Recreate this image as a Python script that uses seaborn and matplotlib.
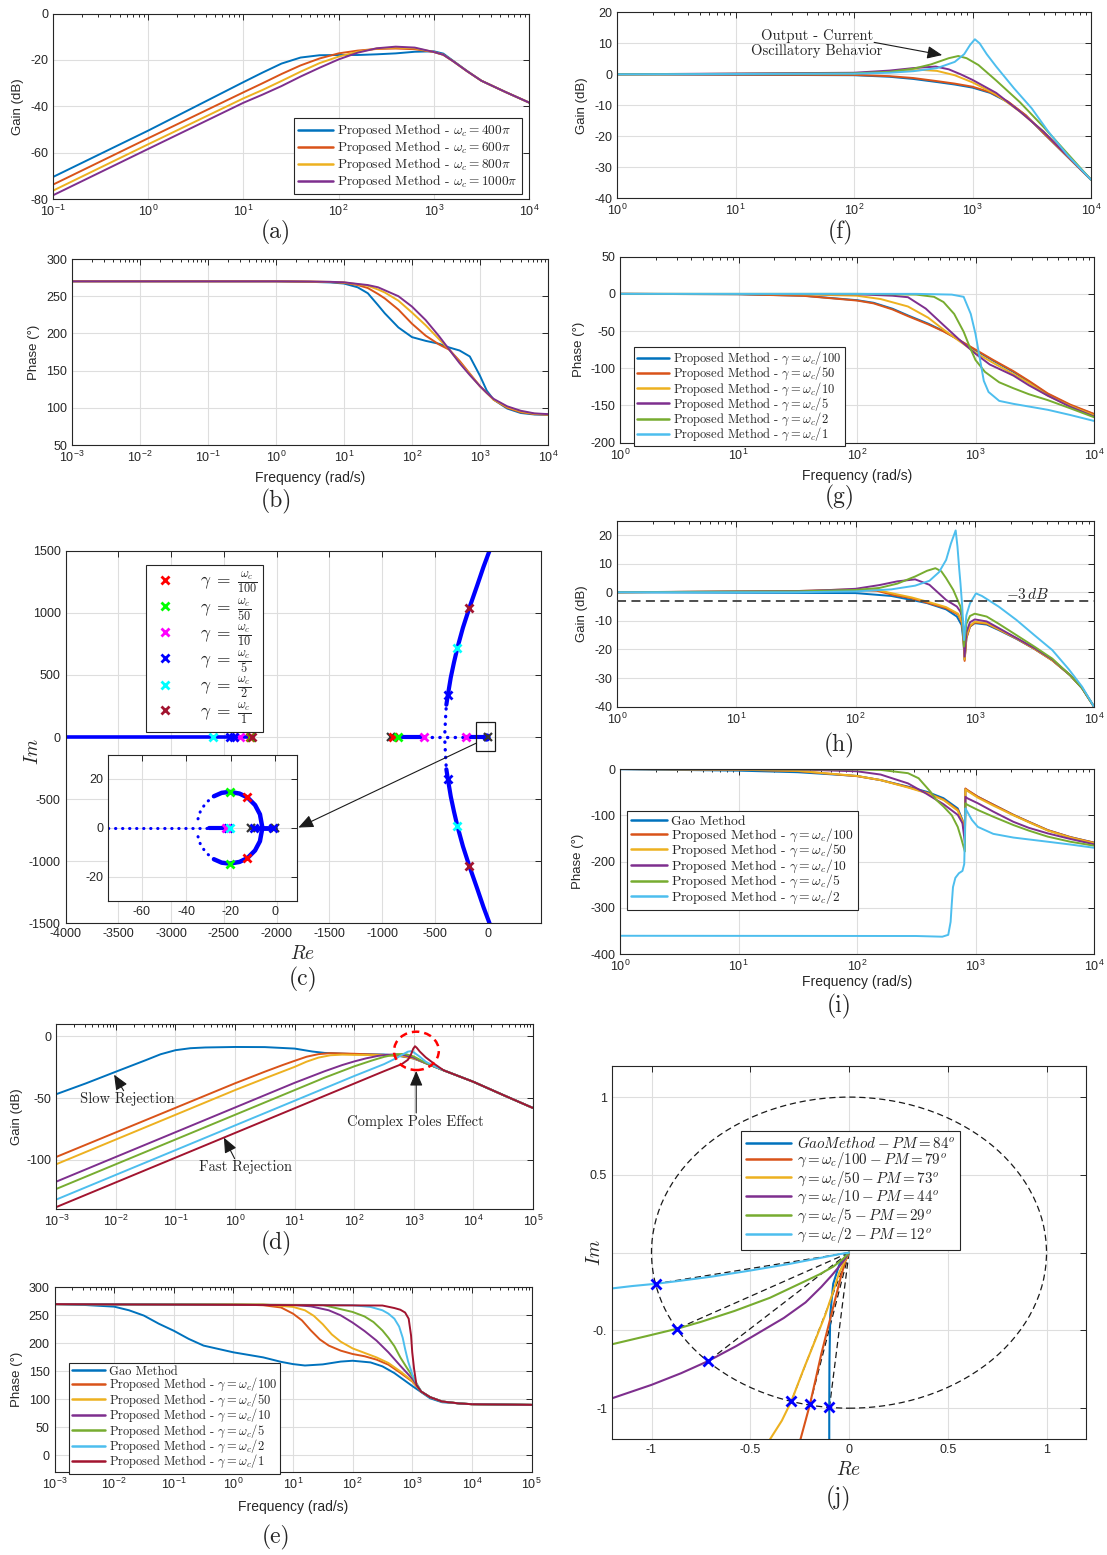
import numpy as np
import matplotlib
matplotlib.use("Agg")
import matplotlib.pyplot as plt
import seaborn as sns
from matplotlib.lines import Line2D
from matplotlib.patches import Ellipse, Circle, Rectangle
from matplotlib.ticker import NullFormatter, FixedLocator, LogFormatterSciNotation

# ---------------- data ----------------
# (a) gain, log10 frequency
a_lx = [-1, 0, 1, 1.2, 1.4, 1.6, 1.8, 2, 2.2, 2.4, 2.6, 2.8, 3, 3.1, 3.2, 3.35, 3.5, 3.75, 4]
a_400 = [-70.5, -50.5, -29.6, -25.5, -21.6, -19.0, -18.0, -17.9, -17.9, -17.6, -17.2, -16.5, -16.3, -17.3, -20.3, -24.8, -29.0, -33.8, -38.4]
a_600 = [-73.8, -53.8, -34.0, -30.1, -26.1, -22.4, -19.4, -17.2, -16.0, -15.3, -15.1, -15.4, -16.6, -17.8, -20.5, -24.9, -29.0, -33.8, -38.4]
a_800 = [-76.4, -56.4, -36.6, -33.0, -29.1, -25.1, -21.4, -18.6, -16.5, -15.1, -14.7, -15.0, -16.6, -17.8, -20.5, -24.9, -29.0, -33.8, -38.4]
a_1000 = [-78.4, -58.4, -38.5, -35.0, -31.3, -27.2, -23.4, -19.8, -16.9, -15.0, -14.3, -14.7, -16.6, -17.8, -20.5, -24.9, -29.0, -33.8, -38.4]
a_labels = [r"Proposed Method - $\omega_c = 400\pi$", r"Proposed Method - $\omega_c = 600\pi$",
            r"Proposed Method - $\omega_c = 800\pi$", r"Proposed Method - $\omega_c = 1000\pi$"]

# (b) phase
b_lx = [-3, 0, 0.5, 0.8, 1, 1.2, 1.35, 1.5, 1.6, 1.8, 2, 2.2, 2.4, 2.55, 2.7, 2.85, 3, 3.1, 3.2, 3.4, 3.6, 3.8, 4]
b_400 = [270, 270, 269.3, 268.5, 267, 262, 254, 238, 227, 208, 195, 190, 186, 181, 177, 169, 143, 123, 111, 99, 93, 91, 90.5]
b_600 = [270, 270, 269.5, 269, 268, 265, 261, 253, 247, 232, 213, 197, 185, 178, 163, 146, 129, 120, 111, 100, 94, 91.5, 90.7]
b_800 = [270, 270, 269.6, 269.2, 268.5, 266, 264, 259, 255, 244, 228, 211, 192, 178, 161, 145, 129, 120, 111, 101, 95, 92, 91]
b_1000 = [270, 270, 269.7, 269.3, 268.7, 266.5, 265, 262, 258, 250, 236, 218, 196, 178, 160, 144, 129, 120, 112, 102, 96, 92.5, 91.5]

# (c) root locus (Re, Im)
c_real_left = [-4000, -2250]
c_real_mid = [-920, -604]
c_real_gap = [-604, -206]
c_real_right = [-206, 0]
c_br_dot_re = [-406, -400, -392]
c_br_dot_im = [40, 150, 260]
c_br_re = [-392, -379, -350, -320, -288, -235, -176, -100, -40, 17, 40]
c_br_im = [260, 332, 480, 600, 716, 880, 1035, 1220, 1370, 1500, 1560]
c_red_re, c_red_im = [-2255, -895], [0, 0]
c_green_re, c_green_im = [-2245, -855], [0, 0]
c_mag_re, c_mag_im = [-2345, -604, -206], [0, 0, 0]
c_blue_re, c_blue_im = [-2440, -2400, -379, -379], [0, 0, 340, -340]
c_cyan_re, c_cyan_im = [-2600, -288, -288], [0, 716, -716]
c_dred_re, c_dred_im = [-2232, -176, -176], [0, 1035, -1035]
c_black_re, c_black_im = [-920, 5], [0, 0]
c_labels = [r"$\gamma\;=\;\frac{\omega_c}{100}$", r"$\gamma\;=\;\frac{\omega_c}{50}$", r"$\gamma\;=\;\frac{\omega_c}{10}$",
            r"$\gamma\;=\;\frac{\omega_c}{5}$", r"$\gamma\;=\;\frac{\omega_c}{2}$", r"$\gamma\;=\;\frac{\omega_c}{1}$"]
# (c) inset
ci_real_dot = [-75, -29.5]
ci_real_thick = [-29.5, -20.4]
ci_real_right = [-10.5, 0]
ci_arc_re = [-27.5, -24, -20.4, -16, -12.4, -9, -6.8, -5.7, -6.8, -9, -12.4, -16, -20.4, -24, -27.5]
ci_arc_im = [12.9, 14.3, 14.7, 14.0, 12.4, 9.3, 5.5, 0, -5.5, -9.3, -12.4, -14.0, -14.7, -14.3, -12.9]
ci_arcdot_re = [-27.5, -31, -33.5, -34.7]
ci_arcdot_im = [12.9, 10.3, 7, 3.5]
ci_green_re, ci_green_im = [-20.4, -20.4], [14.7, -14.7]
ci_red_re, ci_red_im = [-12.4, -12.4], [12.4, -12.4]
ci_mag_re, ci_mag_im = [-22.2], [0]
ci_blue_re, ci_blue_im = [-21.0, -9.6, -1.0], [0, 0, 0]
ci_cyan_re, ci_cyan_im = [-20.2], [0]
ci_black_re, ci_black_im = [-10.6, 0], [0, 0]

# (d) gain
d_gao_lx = [-3, -2.5, -2, -1.5, -1.25, -1, -0.75, -0.5, 0, 0.5, 1, 1.3, 1.5, 2, 2.5, 2.7, 2.85, 3, 3.2, 3.5, 4, 4.5, 5]
d_gao = [-46.8, -38, -28.6, -19.3, -14.5, -11.2, -9.6, -9.0, -8.6, -8.7, -9.9, -12.3, -13.4, -14.4, -14.7, -15.5, -16.6, -18.0, -21.7, -27.5, -36.8, -47.5, -58]
d_100_lx = [-3, 0, 0.5, 0.8, 1, 1.2, 1.4, 1.6, 2, 2.5, 2.8, 3, 3.2, 3.5, 4, 4.5, 5]
d_100 = [-97.6, -38.0, -28.6, -23.2, -19.8, -16.5, -14.4, -13.6, -14.1, -15.0, -16.0, -17.8, -21.7, -27.5, -36.8, -47.5, -58]
d_50_lx = [-3, 0, 0.5, 1, 1.2, 1.4, 1.6, 1.8, 2, 2.5, 2.8, 3, 3.2, 3.5, 4, 4.5, 5]
d_50 = [-103.5, -43.5, -34, -24.7, -20.5, -17.2, -15.3, -14.8, -15.0, -15.2, -15.8, -17.8, -21.7, -27.5, -36.8, -47.5, -58]
d_10_lx = [-3, 1, 1.5, 1.8, 2, 2.2, 2.4, 2.55, 2.7, 2.85, 3, 3.2, 3.5, 4, 4.5, 5]
d_10 = [-117.6, -37.6, -28.3, -23.2, -20.3, -17.8, -15.8, -14.9, -14.6, -15.4, -17.3, -21.7, -27.5, -36.8, -47.5, -58]
d_5_lx = [-3, 1.5, 2, 2.3, 2.5, 2.7, 2.85, 3, 3.2, 3.5, 4, 4.5, 5]
d_5 = [-123.5, -33.5, -24.3, -19.5, -16.6, -14.5, -14.2, -16.3, -21.5, -27.5, -36.8, -47.5, -58]
d_2_lx = [-3, 2, 2.5, 2.7, 2.8, 2.9, 2.95, 3.0, 3.1, 3.2, 3.35, 3.5, 4, 4.5, 5]
d_2 = [-132.1, -32.1, -22.5, -17.8, -15.0, -12.4, -12.0, -13.0, -16.5, -20.5, -24.3, -27.5, -36.8, -47.5, -58]
d_1_lx = [-3, 2, 2.5, 2.8, 2.9, 2.95, 2.99, 3.02, 3.05, 3.1, 3.2, 3.35, 3.5, 4, 4.5, 5]
d_1 = [-138.2, -38.2, -28.2, -22.4, -19.0, -15.0, -10.0, -8.0, -9.3, -12.3, -17.0, -22.5, -27.5, -36.8, -47.5, -58]

# (e) phase
e_gao_lx = [-3, -2.5, -2, -1.75, -1.5, -1.25, -1, -0.75, -0.5, 0, 0.5, 0.8, 1, 1.2, 1.5, 1.8, 2, 2.3, 2.5, 2.7, 2.85, 3, 3.15, 3.3, 3.5, 4, 5]
e_gao = [270, 268.5, 265.5, 259, 249.5, 235, 222.5, 208, 196, 184, 175, 167, 163, 160.5, 162.5, 167.5, 169, 166, 159, 147, 135.5, 124, 113, 102, 95, 91.5, 90.3]
e_100_lx = [-3, 0, 0.5, 0.8, 1, 1.15, 1.3, 1.45, 1.6, 1.8, 2, 2.2, 2.4, 2.6, 2.8, 3, 3.15, 3.3, 3.5, 3.8, 4, 5]
e_100 = [270, 269.5, 268, 264, 253, 241, 223, 207, 196, 187, 181, 177, 171, 162, 147.5, 132, 114, 104, 96.3, 92.7, 91.5, 90.3]
e_50_lx = [-3, 0.5, 1, 1.2, 1.35, 1.5, 1.65, 1.8, 2, 2.2, 2.4, 2.6, 2.8, 3, 3.15, 3.3, 3.5, 3.8, 4, 5]
e_50 = [270, 269.5, 265, 259, 249, 234, 216, 203, 191, 183, 175, 165, 150, 133, 114, 104, 96.3, 92.7, 91.5, 90.3]
e_10_lx = [-3, 1, 1.3, 1.6, 1.8, 2, 2.2, 2.4, 2.6, 2.8, 3, 3.15, 3.3, 3.5, 3.8, 4, 5]
e_10 = [270, 268.5, 266, 259, 250, 237, 222, 205, 184, 160, 137, 114, 104, 96.3, 92.7, 91.5, 90.3]
e_5_lx = [-3, 1.5, 2, 2.2, 2.35, 2.5, 2.6, 2.7, 2.8, 2.9, 3, 3.15, 3.3, 3.5, 3.8, 4, 5]
e_5 = [270, 268.5, 256, 248, 238, 223, 210, 195, 175, 158, 142, 114, 104, 96.3, 92.7, 91.5, 90.3]
e_2_lx = [-3, 2, 2.3, 2.5, 2.6, 2.7, 2.78, 2.84, 2.88, 2.93, 3, 3.08, 3.15, 3.3, 3.5, 3.8, 4, 5]
e_2 = [270, 268, 265, 259, 253, 244, 230, 210, 190, 168, 145, 126, 114, 104, 96.3, 92.7, 91.5, 90.3]
e_1_lx = [-3, 2.5, 2.7, 2.8, 2.88, 2.94, 2.98, 3.0, 3.03, 3.07, 3.15, 3.3, 3.5, 3.8, 4, 5]
e_1 = [270, 267.5, 263, 260, 255, 244, 214, 184, 155, 126, 114, 104, 96.3, 92.7, 91.5, 90.3]
e_labels = ["Gao Method", r"Proposed Method - $\gamma = \omega_c/100$", r"Proposed Method - $\gamma = \omega_c/50$",
            r"Proposed Method - $\gamma = \omega_c/10$", r"Proposed Method - $\gamma = \omega_c/5$",
            r"Proposed Method - $\gamma = \omega_c/2$", r"Proposed Method - $\gamma = \omega_c/1$"]

# (f) gain
f_100_lx = [0, 2, 2.3, 2.5, 2.7, 2.85, 3, 3.15, 3.3, 3.45, 3.6, 3.8, 4]
f_100 = [0, -0.3, -0.8, -1.5, -2.5, -3.3, -4.3, -6.0, -9.0, -13.3, -19.0, -26.5, -34.0]
f_50 = [0, -0.2, -0.6, -1.2, -2.2, -3.0, -4.0, -5.8, -8.8, -13.2, -19.0, -26.5, -34.0]
f_10_lx = [0, 2, 2.3, 2.45, 2.58, 2.7, 2.85, 3, 3.2, 3.4, 3.6, 3.8, 4]
f_10 = [0, 0.3, 0.8, 1.2, 1.4, 1.1, -0.3, -2.6, -6.5, -12, -18.5, -26.3, -34]
f_5_lx = [0, 2, 2.3, 2.5, 2.69, 2.8, 2.9, 3, 3.2, 3.4, 3.6, 3.8, 4]
f_5 = [0, 0.5, 1.2, 2.0, 2.5, 1.6, 0, -1.8, -6, -12, -18.5, -26.3, -34]
f_2_lx = [0, 2, 2.3, 2.5, 2.65, 2.8, 2.88, 2.95, 3.05, 3.2, 3.4, 3.6, 3.8, 4]
f_2 = [0, 0.3, 0.8, 1.8, 3.2, 5.2, 5.9, 5.2, 3.0, -2.0, -9.0, -17.0, -25.5, -34]
f_1_lx = [0, 2, 2.3, 2.5, 2.7, 2.85, 2.93, 2.98, 3.02, 3.06, 3.12, 3.2, 3.35, 3.5, 3.64, 3.8, 4]
f_1 = [0, 0.2, 0.5, 1.0, 2.0, 4.0, 6.5, 9.5, 11.3, 10.0, 6.5, 2.5, -4.5, -11, -18.5, -26, -34]

# (g) phase
g_100_lx = [0, 1, 1.55, 2, 2.14, 2.3, 2.43, 2.6, 2.73, 2.85, 3, 3.15, 3.32, 3.45, 3.61, 3.8, 4]
g_100 = [0, -0.5, -2.5, -8.5, -12, -20, -29, -40, -50, -61, -76, -90, -105, -118, -135, -150, -162]
g_50 = [0, -0.5, -2.7, -9.0, -12.8, -21, -30, -41, -50.5, -61, -75, -89, -104, -117, -134, -149, -161.5]
g_10_lx = [0, 1, 1.5, 2, 2.2, 2.43, 2.6, 2.73, 2.85, 3, 3.15, 3.32, 3.45, 3.61, 3.8, 4]
g_10 = [0, -0.2, -0.6, -2.5, -7, -17, -32, -48, -62, -79, -93, -108, -120, -137, -151, -163.5]
g_5_lx = [0, 2, 2.3, 2.43, 2.58, 2.73, 2.87, 3, 3.12, 3.32, 3.45, 3.61, 3.8, 4]
g_5 = [0, -0.5, -2.5, -4.5, -19.8, -42, -62.6, -80.6, -95, -110, -123, -137, -152, -165]
g_2_lx = [0, 2, 2.5, 2.65, 2.73, 2.82, 2.9, 2.95, 3, 3.08, 3.2, 3.32, 3.45, 3.61, 3.8, 4]
g_2 = [0, 0, -1, -4, -11, -27, -51, -71, -89, -105, -119, -127, -135, -143, -154, -166]
g_1_lx = [0, 2.5, 2.8, 2.9, 2.96, 3.0, 3.04, 3.07, 3.11, 3.2, 3.32, 3.61, 3.8, 4]
g_1 = [0, 0, -1, -4, -27, -54, -90, -117, -132, -144, -148, -156, -163, -171]
g_labels = [r"Proposed Method - $\gamma = \omega_c/100$", r"Proposed Method - $\gamma = \omega_c/50$",
            r"Proposed Method - $\gamma = \omega_c/10$", r"Proposed Method - $\gamma = \omega_c/5$",
            r"Proposed Method - $\gamma = \omega_c/2$", r"Proposed Method - $\gamma = \omega_c/1$"]

# (h) gain
h_gao_lx = [0, 2, 2.3, 2.47, 2.6, 2.76, 2.85, 2.89, 2.905, 2.915, 2.93, 2.96, 3.0, 3.1, 3.2, 3.35, 3.5, 3.65, 3.8, 3.9, 4]
h_gao = [0, -0.3, -1.3, -2.7, -3.8, -6.0, -8.5, -11.5, -17, -23.5, -16, -12, -10.8, -11.3, -13.2, -16.3, -19.8, -23.8, -29, -33.5, -40]
h_100_lx = [0, 1.5, 1.8, 2, 2.18, 2.32, 2.47, 2.62, 2.76, 2.86, 2.895, 2.905, 2.915, 2.93, 2.96, 3.0, 3.1, 3.2, 3.35, 3.5, 3.65, 3.8, 3.9, 4]
h_100 = [0, 0.3, 0.6, 0.8, 0.5, -1.0, -2.1, -3.9, -5.6, -7.8, -11, -16, -24, -16, -12, -10.6, -11, -13, -16.2, -19.8, -23.8, -29, -33.5, -40]
h_50 = [0, 0.4, 0.8, 1.0, 0.8, -0.5, -1.8, -3.5, -5.2, -7.5, -10.5, -15.5, -23.5, -15.5, -11.7, -10.3, -10.8, -12.9, -16.1, -19.7, -23.8, -29, -33.5, -40]
h_10_lx = [0, 1.5, 1.8, 2, 2.2, 2.35, 2.5, 2.62, 2.76, 2.85, 2.88, 2.9, 2.915, 2.93, 2.96, 3.0, 3.1, 3.2, 3.35, 3.5, 3.65, 3.8, 3.9, 4]
h_10 = [0, 0.4, 0.8, 1.2, 2.5, 3.8, 4.5, 2.6, -2.7, -5.0, -6.8, -10, -22.5, -14, -10.5, -9.5, -10.2, -12.5, -16, -19.5, -23.5, -29, -33.5, -40]
h_5_lx = [0, 1.5, 2, 2.2, 2.35, 2.5, 2.6, 2.67, 2.72, 2.76, 2.82, 2.88, 2.9, 2.91, 2.93, 2.96, 3.0, 3.1, 3.2, 3.35, 3.5, 3.65, 3.8, 3.9, 4]
h_5 = [0, 0.3, 0.8, 1.5, 3, 5.5, 7.5, 8.4, 7.3, 4.9, 0.8, -5, -10, -19, -11, -8.3, -7.5, -8.5, -11, -15, -19, -23.2, -29, -33.5, -40]
h_2_lx = [0, 1.5, 2, 2.3, 2.5, 2.62, 2.7, 2.76, 2.8, 2.84, 2.855, 2.87, 2.88, 2.895, 2.91, 2.93, 2.96, 3.01, 3.06, 3.2, 3.35, 3.5, 3.65, 3.79, 3.9, 4]
h_2 = [0, 0, 0.3, 1, 2.3, 4, 7, 11.3, 17, 21.6, 16, 8, 3.2, -5, -16.7, -8, -3.9, -0.4, -1.3, -5, -9.7, -15, -20.2, -27, -33, -40]
h_ref_db = -3

# (i) phase
i_lx = [0, 1, 1.5, 2, 2.2, 2.43, 2.6, 2.73, 2.85, 2.89, 2.91, 2.915, 2.93, 3.02, 3.15, 3.32, 3.45, 3.61, 3.8, 4]
i_gao = [-0.5, -3.6, -7, -15, -24, -38, -50, -63, -85, -110, -140, -43, -46, -60, -77, -99, -114, -132, -147, -159]
i_100 = [0, -1.5, -4.5, -15.5, -24, -39, -52, -66, -88, -112, -140, -42, -45, -60, -77, -99, -114, -132, -147, -159]
i_50 = [0, -1.3, -4, -15, -24, -40, -53, -67, -90, -113, -142, -44, -47, -62, -79, -100, -115, -133, -148, -160]
i_10_lx = [0, 1.5, 2, 2.2, 2.43, 2.58, 2.73, 2.85, 2.89, 2.91, 2.915, 2.93, 3.02, 3.15, 3.32, 3.45, 3.61, 3.8, 4]
i_10 = [0, -1, -5, -12, -31, -52.5, -76, -99, -117, -158, -60, -63, -74, -92, -114, -127, -139, -151, -162.5]
i_5_lx = [0, 2, 2.2, 2.43, 2.52, 2.62, 2.67, 2.73, 2.8, 2.85, 2.88, 2.91, 2.915, 2.93, 3.02, 3.15, 3.32, 3.45, 3.61, 3.8, 4]
i_5 = [0, -1, -2, -9, -20, -49, -67, -81, -100, -125, -150, -178, -74, -77, -88.5, -103, -121, -133, -146, -157, -165.5]
i_2_lx = [0, 2.5, 2.72, 2.77, 2.79, 2.8, 2.81, 2.83, 2.86, 2.89, 2.905, 2.915, 2.93, 2.97, 3.02, 3.15, 3.32, 3.61, 3.8, 4]
i_2 = [-360, -360.5, -362, -358, -330, -290, -255, -235, -225, -220, -205, -85, -92, -110, -125, -140, -148, -157, -163, -170]
i_labels = ["Gao Method", r"Proposed Method - $\gamma = \omega_c/100$", r"Proposed Method - $\gamma = \omega_c/50$",
            r"Proposed Method - $\gamma = \omega_c/10$", r"Proposed Method - $\gamma = \omega_c/5$",
            r"Proposed Method - $\gamma = \omega_c/2$"]

# (j) Nyquist (Re, Im)
j_gao_re = [0, -0.02, -0.05, -0.08, -0.095, -0.099, -0.1, -0.1]
j_gao_im = [0, -0.03, -0.08, -0.2, -0.4, -0.7, -0.994, -1.25]
j_100_re = [0, -0.02, -0.04, -0.07, -0.1, -0.14, -0.17, -0.198, -0.22, -0.25]
j_100_im = [0, -0.06, -0.15, -0.3, -0.45, -0.65, -0.82, -0.976, -1.08, -1.22]
j_50_re = [0, -0.02, -0.05, -0.08, -0.12, -0.17, -0.23, -0.292, -0.34, -0.41]
j_50_im = [0, -0.05, -0.13, -0.25, -0.4, -0.56, -0.75, -0.955, -1.08, -1.22]
j_10_re = [0, -0.02, -0.05, -0.09, -0.14, -0.22, -0.33, -0.45, -0.57, -0.713, -0.85, -1.0, -1.22]
j_10_im = [0, -0.04, -0.09, -0.15, -0.22, -0.32, -0.42, -0.51, -0.6, -0.697, -0.775, -0.85, -0.945]
j_5_re = [0, -0.03, -0.08, -0.15, -0.25, -0.4, -0.58, -0.75, -0.87, -1.02, -1.22]
j_5_im = [0, -0.04, -0.09, -0.14, -0.2, -0.29, -0.375, -0.445, -0.489, -0.535, -0.595]
j_2_re = [0, -0.05, -0.15, -0.3, -0.5, -0.7, -0.85, -0.977, -1.1, -1.22]
j_2_im = [0, -0.01, -0.035, -0.072, -0.115, -0.155, -0.18, -0.2, -0.215, -0.233]
j_pm_re = [-0.099, -0.198, -0.292, -0.713, -0.87, -0.977]
j_pm_im = [-0.994, -0.976, -0.955, -0.697, -0.489, -0.2]
j_labels = [r"$GaoMethod - PM = 84^o$", r"$\gamma = \omega_c/100 - PM = 79^o$", r"$\gamma = \omega_c/50 - PM = 73^o$",
            r"$\gamma = \omega_c/10 - PM = 44^o$", r"$\gamma = \omega_c/5 - PM = 29^o$", r"$\gamma = \omega_c/2 - PM = 12^o$"]

# ---------------- style ----------------
sns.set_theme(style="white")
plt.rcParams["font.family"] = ["Liberation Sans", "DejaVu Sans"]
plt.rcParams["mathtext.fontset"] = "cm"
plt.rcParams["axes.unicode_minus"] = False

C = ["#0072BD", "#D95319", "#EDB120", "#7E2F8E", "#77AC30", "#4DBEEE", "#A2142F"]
SERIF = "cmr10"
INK = "#262626"
W, H = 1107, 1555
fig = plt.figure(figsize=(W / 100, H / 100), dpi=100)


def add_ax(l, t, r, b):
    return fig.add_axes([l / W, 1 - b / H, (r - l) / W, (b - t) / H])


def style(ax, decades=None):
    for s in ax.spines.values():
        s.set_color(INK)
        s.set_linewidth(0.8)
    ax.tick_params(axis="both", which="both", direction="in", top=True, right=True,
                   colors=INK, labelsize=9, width=0.7)
    ax.tick_params(which="major", length=4)
    ax.tick_params(which="minor", length=2)
    ax.grid(True, which="major", color="#dedede", lw=0.8)
    ax.set_axisbelow(True)
    if decades is not None:
        lo, hi = decades
        ax.set_xscale("log")
        ax.set_xlim(10.0 ** lo, 10.0 ** hi)
        ax.xaxis.set_major_locator(FixedLocator([10.0 ** k for k in range(lo, hi + 1)]))
        ax.xaxis.set_major_formatter(LogFormatterSciNotation())
        ax.xaxis.set_minor_locator(FixedLocator([m * 10.0 ** k for k in range(lo, hi) for m in range(2, 10)]))
        ax.xaxis.set_minor_formatter(NullFormatter())


def curve(ax, lx, y, color, lw=1.4):
    sns.lineplot(x=np.power(10.0, np.asarray(lx, float)), y=np.asarray(y, float), ax=ax,
                 color=color, lw=lw, estimator=None, sort=False, legend=False)


def xyline(ax, x, y, color, lw=1.4, **kw):
    sns.lineplot(x=np.asarray(x, float), y=np.asarray(y, float), ax=ax, color=color, lw=lw,
                 estimator=None, sort=False, legend=False, **kw)


def legend(ax, labels, colors, anchor, fs, ls=0.0, **kw):
    hs = [Line2D([], [], color=c, lw=1.8) for c in colors]
    opts = dict(loc="upper left", bbox_to_anchor=anchor, frameon=True, fancybox=False, framealpha=1,
                edgecolor=INK, borderpad=0.3, labelspacing=ls, handlelength=2.6, handletextpad=0.3,
                borderaxespad=0, prop={"family": SERIF, "size": fs})
    opts.update(kw)
    lg = ax.legend(hs, labels, **opts)
    lg.get_frame().set_linewidth(0.8)
    return lg


def ylab(ax, text, xfrac, yfrac=0.5, **kw):
    ax.set_ylabel(text, fontsize=9.5, color=INK, **kw)
    ax.yaxis.set_label_coords(xfrac, yfrac)


def xlab(ax, text, yfrac, **kw):
    ax.set_xlabel(text, fontsize=10, color=INK, **kw)
    ax.xaxis.set_label_coords(0.5, yfrac)


def panel_label(x, y, s):
    fig.text(x / W, 1 - y / H, s, ha="center", va="center", fontsize=17, family=SERIF)


ARROW = dict(arrowstyle="-|>,head_length=0.7,head_width=0.3", color="k", lw=0.8, mutation_scale=13,
             shrinkA=0, shrinkB=0)

# ---------------- (a) ----------------
ax = add_ax(53, 13.5, 529, 199)
style(ax, (-1, 4))
for y, c in zip([a_400, a_600, a_800, a_1000], C[:4]):
    curve(ax, a_lx, y, c)
ax.set_xlim(1e-1, 1e4)
ax.set_ylim(-80, 0)
ax.set_yticks(np.arange(-80, 1, 20))
ylab(ax, "Gain (dB)", -0.061)
legend(ax, a_labels, C[:4], (0.507, 0.435), 9.6, ls=0.0)
panel_label(276, 232, "(a)")

# ---------------- (b) ----------------
ax = add_ax(72, 259, 548, 445)
style(ax, (-3, 4))
for y, c in zip([b_400, b_600, b_800, b_1000], C[:4]):
    curve(ax, b_lx, y, c)
ax.set_xlim(1e-3, 1e4)
ax.set_ylim(50, 300)
ax.set_yticks(np.arange(50, 301, 50))
ylab(ax, "Phase (°)", -0.067)
xlab(ax, "Frequency (rad/s)", -0.14)
panel_label(276, 501, "(b)")

# ---------------- (c) ----------------
ax = add_ax(65.6, 550.7, 540.5, 923.3)
style(ax)
BL = "#0000FF"
dots = dict(linestyle=(0, (0.1, 2.2)), dash_capstyle="round")
xyline(ax, c_real_left, [0, 0], BL, lw=2.6)
xyline(ax, c_real_mid, [0, 0], BL, lw=3)
xyline(ax, c_real_gap, [0, 0], BL, lw=2.4, **dots)
xyline(ax, c_real_right, [0, 0], BL, lw=3)
xyline(ax, c_br_dot_re, c_br_dot_im, BL, lw=2.4, **dots)
xyline(ax, c_br_dot_re, [-v for v in c_br_dot_im], BL, lw=2.4, **dots)
xyline(ax, c_br_re, c_br_im, BL, lw=3)
xyline(ax, c_br_re, [-v for v in c_br_im], BL, lw=3)
ax.plot([-20], [0], "o", color=BL, ms=5)
MK = [("#FF0000", c_red_re, c_red_im), ("#00FF00", c_green_re, c_green_im), ("#FF00FF", c_mag_re, c_mag_im),
      ("#0000FF", c_blue_re, c_blue_im), ("#00FFFF", c_cyan_re, c_cyan_im), ("#A2142F", c_dred_re, c_dred_im)]
ax.plot(c_black_re, c_black_im, "x", color="#333333", ms=6, mew=1.6, ls="none")
for col, xs, ys in MK:
    ax.plot(xs, ys, "x", color=col, ms=6, mew=2, ls="none")
ax.add_patch(Rectangle((-115, -110), 180, 228, fill=False, ec="k", lw=0.9, zorder=5))
ax.annotate("", xy=(-1794, -729), xytext=(-110, -50), arrowprops=ARROW, annotation_clip=False)
ax.set_xlim(-4000, 500)
ax.set_ylim(-1500, 1500)
ax.set_xticks(np.arange(-4000, 1, 500))
ax.set_yticks(np.arange(-1500, 1501, 500))
ax.set_ylabel(r"$Im$", fontsize=14, color=INK)
ax.yaxis.set_label_coords(-0.05, 0.46)
ax.set_xlabel(r"$Re$", fontsize=14, color=INK)
ax.xaxis.set_label_coords(0.5, -0.058)
mh = [Line2D([], [], ls="none", marker="x", color=col, ms=6, mew=2) for col, _, _ in MK]
lg = ax.legend(mh, c_labels, loc="upper left", bbox_to_anchor=(0.17, 0.962), frameon=True, fancybox=False,
               framealpha=1, edgecolor=INK, borderpad=0.3, labelspacing=-0.03, handlelength=1.6,
               handletextpad=1.2, borderaxespad=0, prop={"size": 12.5})
lg.get_frame().set_linewidth(0.8)
panel_label(303, 979, "(c)")

# inset
axi = add_ax(108.3, 754.5, 297.3, 901)
style(axi)
axi.set_facecolor("white")
xyline(axi, ci_real_dot, [0, 0], BL, lw=2.2, **dots)
xyline(axi, ci_real_thick, [0, 0], BL, lw=3)
xyline(axi, ci_real_right, [0, 0], BL, lw=3.5)
xyline(axi, ci_arc_re, ci_arc_im, BL, lw=3.2)
xyline(axi, ci_arcdot_re, ci_arcdot_im, BL, lw=2.2, **dots)
xyline(axi, ci_arcdot_re, [-v for v in ci_arcdot_im], BL, lw=2.2, **dots)
axi.plot(ci_black_re, ci_black_im, "x", color="#333333", ms=6, mew=1.6, ls="none")
for col, xs, ys in [("#0000FF", ci_blue_re, ci_blue_im), ("#00FF00", ci_green_re, ci_green_im),
                    ("#FF0000", ci_red_re, ci_red_im), ("#FF00FF", ci_mag_re, ci_mag_im),
                    ("#00FFFF", ci_cyan_re, ci_cyan_im)]:
    axi.plot(xs, ys, "x", color=col, ms=6, mew=2, ls="none")
axi.set_xlim(-75, 10)
axi.set_ylim(-30, 30)
axi.set_xticks([-60, -40, -20, 0])
axi.set_yticks([-20, 0, 20])

# ---------------- (d) ----------------
ax = add_ax(56.3, 1024, 533, 1209.3)
style(ax, (-3, 5))
for lx, y, c in zip([d_gao_lx, d_100_lx, d_50_lx, d_10_lx, d_5_lx, d_2_lx, d_1_lx],
                    [d_gao, d_100, d_50, d_10, d_5, d_2, d_1], C):
    curve(ax, lx, y, c)
ax.set_xlim(1e-3, 1e5)
ax.set_ylim(-140, 10)
ax.set_yticks([-100, -50, 0])
ylab(ax, "Gain (dB)", -0.07)
ax.add_patch(Ellipse((0.7554, 0.855), 0.094, 0.207, transform=ax.transAxes, fill=False, ec="#FF0000",
                     ls=(0, (3, 2)), lw=1.8, zorder=6))
tf = dict(family=SERIF, fontsize=10.5, ha="center", va="center")
ax.text(10 ** -1.81, -50.8, "Slow Rejection", **tf)
ax.annotate("", xy=(10 ** -2.03, -31), xytext=(10 ** -1.87, -44), arrowprops=ARROW)
ax.text(10 ** 0.18, -105.6, "Fast Rejection", **tf)
ax.annotate("", xy=(10 ** -0.187, -82), xytext=(10 ** -0.007, -99), arrowprops=ARROW)
ax.text(10 ** 3.03, -69.3, "Complex Poles Effect", **tf)
ax.annotate("", xy=(10 ** 3.04, -28), xytext=(10 ** 3.04, -62), arrowprops=ARROW)
panel_label(276, 1243, "(d)")

# ---------------- (e) ----------------
ax = add_ax(54.5, 1287.3, 531.5, 1472.3)
style(ax, (-3, 5))
for lx, y, c in zip([e_gao_lx, e_100_lx, e_50_lx, e_10_lx, e_5_lx, e_2_lx, e_1_lx],
                    [e_gao, e_100, e_50, e_10, e_5, e_2, e_1], C):
    curve(ax, lx, y, c)
ax.set_xlim(1e-3, 1e5)
ax.set_ylim(-30, 300)
ax.set_yticks(np.arange(0, 301, 50))
ylab(ax, "Phase (°)", -0.066)
xlab(ax, "Frequency (rad/s)", -0.15)
legend(ax, e_labels, C, (0.031, 0.593), 9.0, ls=-0.14, borderpad=0.25)
panel_label(276, 1537, "(e)")

# ---------------- (f) ----------------
ax = add_ax(617, 12.3, 1091, 198.3)
style(ax, (0, 4))
for lx, y, c in zip([f_100_lx, f_100_lx, f_10_lx, f_5_lx, f_2_lx, f_1_lx],
                    [f_100, f_50, f_10, f_5, f_2, f_1], C[:6]):
    curve(ax, lx, y, c)
ax.set_xlim(1, 1e4)
ax.set_ylim(-40, 20)
ax.set_yticks(np.arange(-40, 21, 10))
ylab(ax, "Gain (dB)", -0.061)
ax.text(10 ** 1.687, 10, "Output - Current\nOscillatory Behavior", family=SERIF, fontsize=10.5,
        ha="center", va="center", multialignment="center", linespacing=1.05)
ax.annotate("", xy=(10 ** 2.744, 6.2), xytext=(10 ** 2.17, 10.3), arrowprops=ARROW)
panel_label(840, 232, "(f)")

# ---------------- (g) ----------------
ax = add_ax(620, 256.7, 1094, 442.5)
style(ax, (0, 4))
for lx, y, c in zip([g_100_lx, g_100_lx, g_10_lx, g_5_lx, g_2_lx, g_1_lx],
                    [g_100, g_50, g_10, g_5, g_2, g_1], C[:6]):
    curve(ax, lx, y, c)
ax.set_xlim(1, 1e4)
ax.set_ylim(-200, 50)
ax.set_yticks(np.arange(-200, 51, 50))
ylab(ax, "Phase (°)", -0.074)
xlab(ax, "Frequency (rad/s)", -0.14)
legend(ax, g_labels, C[:6], (0.029, 0.514), 9.0, ls=-0.16, borderpad=0.25)
panel_label(840, 497, "(g)")

# ---------------- (h) ----------------
ax = add_ax(617, 520.7, 1094, 706.7)
style(ax, (0, 4))
for lx, y, c in zip([h_gao_lx, h_100_lx, h_100_lx, h_10_lx, h_5_lx, h_2_lx],
                    [h_gao, h_100, h_50, h_10, h_5, h_2], C[:6]):
    curve(ax, lx, y, c)
ax.axhline(h_ref_db, color="#404040", ls=(0, (5, 3)), lw=1.3, zorder=4)
ax.text(10 ** 3.44, -0.9, r"$-3\,dB$", fontsize=11, ha="center", va="center")
ax.set_xlim(1, 1e4)
ax.set_ylim(-40, 25)
ax.set_yticks(np.arange(-40, 21, 10))
ylab(ax, "Gain (dB)", -0.061)
panel_label(839, 745, "(h)")

# ---------------- (i) ----------------
ax = add_ax(620, 769, 1094, 954.3)
style(ax, (0, 4))
for lx, y, c in zip([i_lx, i_lx, i_lx, i_10_lx, i_5_lx, i_2_lx],
                    [i_gao, i_100, i_50, i_10, i_5, i_2], C[:6]):
    curve(ax, lx, y, c)
ax.set_xlim(1, 1e4)
ax.set_ylim(-400, 0)
ax.set_yticks(np.arange(-400, 1, 100))
ylab(ax, "Phase (°)", -0.076)
xlab(ax, "Frequency (rad/s)", -0.11)
legend(ax, i_labels, C[:6], (0.015, 0.771), 9.8, ls=-0.12, borderpad=0.3)
panel_label(839, 1006, "(i)")

# ---------------- (j) ----------------
ax = add_ax(612, 1066, 1086, 1439.3)
style(ax)
ax.add_patch(Circle((0, 0), 1, fill=False, ec="k", ls=(0, (5, 3)), lw=0.9))
for mr, mi in zip(j_pm_re, j_pm_im):
    ax.plot([0, mr], [0, mi], color="k", ls=(0, (5, 3)), lw=0.9)
for xs, ys, c in zip([j_gao_re, j_100_re, j_50_re, j_10_re, j_5_re, j_2_re],
                     [j_gao_im, j_100_im, j_50_im, j_10_im, j_5_im, j_2_im], C[:6]):
    xyline(ax, xs, ys, c, lw=1.5)
ax.plot(j_pm_re, j_pm_im, "x", color="#0000FF", ms=7, mew=2, ls="none", zorder=5)
ax.set_xlim(-1.2, 1.2)
ax.set_ylim(-1.2, 1.2)
ax.set_xticks([-1, -0.5, 0, 0.5, 1])
ax.set_xticklabels(["-1", "-0.5", "0", "0.5", "1"])
ax.yaxis.set_major_locator(FixedLocator([-1, -0.5, 0, 0.5, 1]))
ax.set_yticklabels(["-1", "-0.", "", "0.5", "1"])
ax.set_ylabel(r"$Im$", fontsize=14, color=INK)
ax.yaxis.set_label_coords(-0.017, 0.5)
ax.set_xlabel(r"$Re$", fontsize=14, color=INK)
ax.xaxis.set_label_coords(0.5, -0.058)
hs = [Line2D([], [], color=c, lw=1.8) for c in C[:6]]
lg = ax.legend(hs, j_labels, loc="upper left", bbox_to_anchor=(0.273, 0.827), frameon=True, fancybox=False,
               framealpha=1, edgecolor=INK, borderpad=0.3, labelspacing=-0.08, handlelength=3.0,
               handletextpad=0.4, borderaxespad=0, prop={"size": 10.8})
lg.get_frame().set_linewidth(0.8)
panel_label(838, 1498, "(j)")

fig.savefig("out.png", dpi=100, facecolor="white")
